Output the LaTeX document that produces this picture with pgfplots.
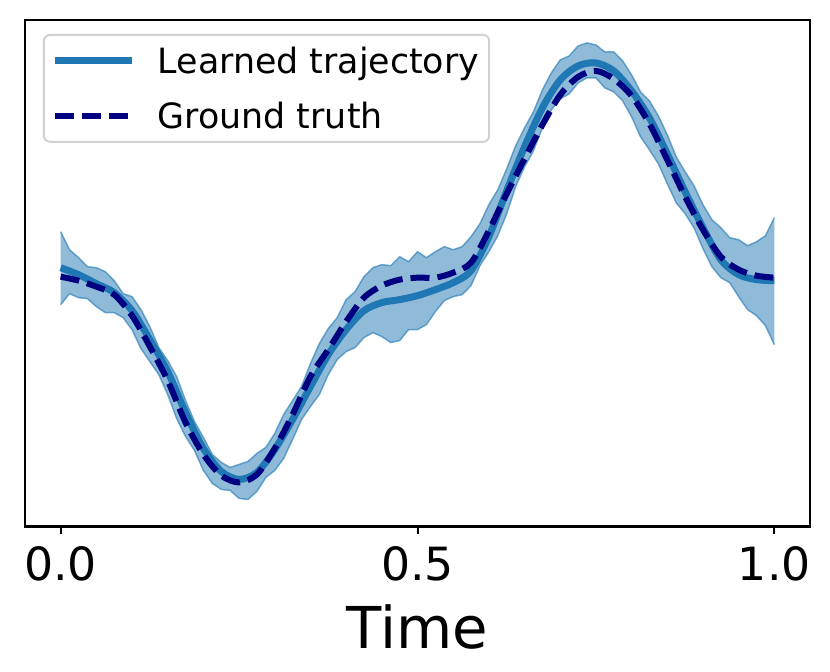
\documentclass[border=0pt]{standalone}
\usepackage{pgfplots}
\pgfplotsset{compat=1.18}
\usepackage{pgfplotstable}
\usepgfplotslibrary{fillbetween}
\usepackage{fontspec}
\setmainfont{DejaVu Sans}
\definecolor{mplblue}{HTML}{1F77B4}
\definecolor{gtnavy}{RGB}{0,0,128}

% y values are measured downwards (y dir=reverse)
\pgfplotstableread{
t learned truth
0.000 268 277
0.025 275 281
0.050 284 287
0.075 293 295
0.100 311 316
0.125 340 347
0.150 372 381
0.175 413 423
0.200 449 455
0.225 472 476
0.250 480 483
0.275 473 475
0.300 450 449
0.325 420 415
0.350 387 377
0.375 355 350
0.400 330 322
0.425 311 298
0.450 303 286
0.475 300 280
0.500 296 278
0.525 290 278
0.550 283 273
0.575 271 263
0.600 237 231
0.625 191 194
0.650 147 159
0.675 108 125
0.700 80 95
0.725 66 77
0.750 63 71
0.775 71 79
0.800 91 96
0.825 118 124
0.850 154 160
0.875 192 197
0.900 228 230
0.925 260 257
0.950 275 270
0.975 280 276
1.000 281 278
}\lines

\pgfplotstableread{
t up lo
0.0000 232 305
0.0125 250 294
0.0250 258 298
0.0375 267 299
0.0500 268 307
0.0625 272 313
0.0750 281 313
0.0875 294 318
0.1000 297 330
0.1125 310 349
0.1250 327 362
0.1375 348 375
0.1500 361 395
0.1625 377 419
0.1750 401 437
0.1875 422 451
0.2000 438 471
0.2125 455 484
0.2250 463 490
0.2375 468 491
0.2500 465 499
0.2625 462 500
0.2750 454 492
0.2875 448 478
0.3000 434 471
0.3125 415 459
0.3250 401 440
0.3375 387 420
0.3500 364 407
0.3625 344 395
0.3750 329 375
0.3875 318 360
0.4000 300 352
0.4125 292 348
0.4250 277 338
0.4375 268 333
0.4500 265 337
0.4625 266 343
0.4750 257 341
0.4875 262 330
0.5000 252 330
0.5125 258 325
0.5250 252 312
0.5375 247 301
0.5500 250 297
0.5625 247 295
0.5750 237 286
0.5875 224 266
0.6000 205 252
0.6125 190 236
0.6250 169 214
0.6375 146 187
0.6500 128 167
0.6625 112 151
0.6750 90 128
0.6875 73 110
0.7000 60 99
0.7125 56 94
0.7250 46 83
0.7375 43 78
0.7500 45 78
0.7625 52 88
0.7750 52 92
0.7875 61 101
0.8000 75 117
0.8125 92 137
0.8250 101 150
0.8375 116 164
0.8500 135 184
0.8625 157 203
0.8750 172 214
0.8875 186 228
0.9000 205 249
0.9125 220 267
0.9250 228 278
0.9375 238 283
0.9500 240 297
0.9625 246 310
0.9750 242 316
0.9875 236 326
1.0000 218 345
}\band

\begin{document}
\begin{tikzpicture}
\begin{axis}[
  width=786bp, height=507bp, scale only axis,
  xmin=-0.05, xmax=1.05, ymin=20, ymax=527, y dir=reverse,
  xtick={0,0.5,1}, xticklabels={0.0,0.5,1.0}, ytick=\empty,
  tick pos=bottom, tick align=outside, major tick length=8bp,
  every tick/.style={black, line width=2bp},
  axis line style={line width=2.5bp},
  xticklabel style={font=\fontsize{46}{50}\selectfont, yshift=-9bp},
  xlabel={Time},
  xlabel style={font=\fontsize{58}{62}\selectfont, yshift=-16bp},
  legend cell align=left,
  legend style={at={(axis description cs:0,1)}, anchor=north west,
    xshift=18bp, yshift=-14bp, draw=black!18, line width=2bp,
    rounded corners=6bp, font=\fontsize{35}{38}\selectfont,
    row sep=23bp, column sep=20bp, inner xsep=8bp, inner ysep=10bp},
  legend image code/.code={\draw[#1] (0bp,0bp) -- (77bp,0bp);},
]
\addplot[name path=up, mplblue, draw opacity=0.6, line width=1.5bp, forget plot] table[x=t, y=up] {\band};
\addplot[name path=lo, mplblue, draw opacity=0.6, line width=1.5bp, forget plot] table[x=t, y=lo] {\band};
\addplot[fill=mplblue, fill opacity=0.5, draw=none, forget plot] fill between[of=up and lo];
\addplot[mplblue, line width=7bp, smooth, tension=0.5] table[x=t, y=learned] {\lines};
\addlegendentry{Learned trajectory}
\addplot[gtnavy, line width=6bp, smooth, tension=0.5, dash pattern=on 19bp off 8bp] table[x=t, y=truth] {\lines};
\addlegendentry{Ground truth}
\end{axis}
\path (current axis.south west) ++(-25bp,-145bp) rectangle ([shift={(20bp,20bp)}]current axis.north east);
\end{tikzpicture}
\end{document}
